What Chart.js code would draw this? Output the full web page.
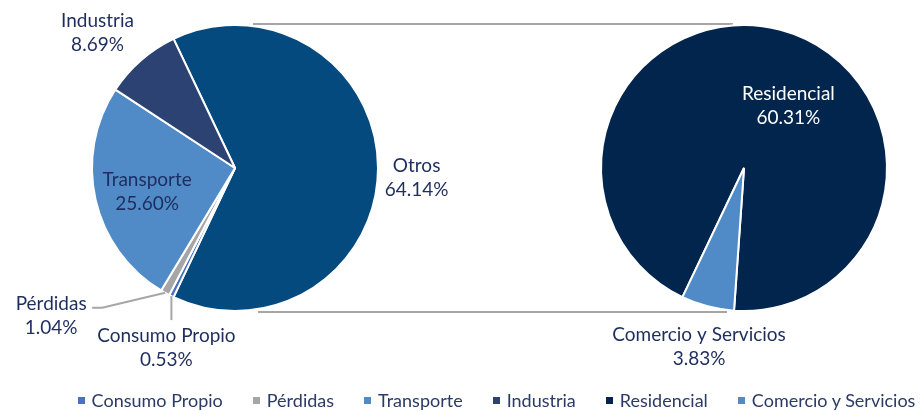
<!DOCTYPE html>
<html><head><meta charset="utf-8">
<script src="https://cdn.jsdelivr.net/npm/chart.js@4"></script>
<style>
html,body{margin:0;padding:0;background:#fff;}
#wrap{position:relative;width:921px;height:411px;overflow:hidden;background:#fff;}
#wrap canvas{position:absolute;left:0;top:0;}
#legend{position:absolute;left:72px;right:0;top:387px;height:26px;display:flex;justify-content:center;align-items:center;font-family:Lato,"Noto Sans",sans-serif;font-size:18px;color:#2b3a66;white-space:nowrap;}
.li{display:flex;align-items:center;margin:0 15px;}
.sw{width:7px;height:7px;margin-right:7px;flex:none;}
</style></head><body>
<div id="wrap">
<canvas id="c1" width="921" height="411"></canvas>
<canvas id="c2" width="921" height="411"></canvas>
<div id="legend"></div>
</div>
<script>
// ---- data ----
const leftLabels  = ['Otros', 'Consumo Propio', 'Pérdidas', 'Transporte', 'Industria'];
const leftValues  = [64.14, 0.53, 1.04, 25.60, 8.69];
const leftColors  = ['#044a7e', '#4a72c0', '#a6a6a6', '#508bc8', '#2b4272'];
const rightLabels = ['Residencial', 'Comercio y Servicios'];
const rightValues = [60.31, 3.83];
const rightColors = ['#02254d', '#508bc8'];

const TEXT = '#1d2d5e';
const FONT = '19px Lato, "Noto Sans", sans-serif';

const sliceLabels = {
  id: 'sliceLabels',
  afterDatasetsDraw(chart, args, opts) {
    const ctx = chart.ctx;
    const meta = chart.getDatasetMeta(0);
    const labels = chart.data.labels;
    const values = chart.data.datasets[0].data;
    ctx.save();
    ctx.font = FONT;
    ctx.textAlign = 'center';
    ctx.textBaseline = 'middle';
    (opts.specs || []).forEach(s => {
      const p = meta.data[s.index].getProps(['x','y','startAngle','endAngle','outerRadius'], true);
      const mid = (p.startAngle + p.endAngle) / 2;
      const ex = p.x + Math.cos(mid) * p.outerRadius;
      const ey = p.y + Math.sin(mid) * p.outerRadius;
      const lx = p.x + Math.cos(mid) * p.outerRadius * s.k + s.dx;
      const ly = p.y + Math.sin(mid) * p.outerRadius * s.k + s.dy;
      if (s.leader) {
        ctx.strokeStyle = '#a6a6a6';
        ctx.lineWidth = 2;
        ctx.beginPath();
        ctx.moveTo(ex, ey);
        s.leader.forEach(pt => ctx.lineTo(pt[0] === null ? ex : lx + pt[0], ly + pt[1]));
        ctx.stroke();
      }
      ctx.fillStyle = s.color || TEXT;
      ctx.fillText(labels[s.index], lx, ly - 12);
      ctx.fillText(values[s.index].toFixed(2) + '%', lx, ly + 12);
    });
    ctx.restore();
  }
};

let chart1;
const seriesLines = {
  id: 'seriesLines',
  beforeDatasetsDraw(chart) {
    const a = chart1.getDatasetMeta(0).data[0].getProps(['x','y','outerRadius'], true);
    const b = chart.getDatasetMeta(0).data[0].getProps(['x','y','outerRadius'], true);
    const ctx = chart.ctx;
    ctx.save();
    ctx.strokeStyle = '#a6a6a6';
    ctx.lineWidth = 2;
    ctx.beginPath();
    ctx.moveTo(a.x + 18, a.y - a.outerRadius - 1);
    ctx.lineTo(b.x - 11, b.y - b.outerRadius - 1);
    ctx.moveTo(a.x + 23, a.y + a.outerRadius + 1);
    ctx.lineTo(b.x - 17, b.y + b.outerRadius + 1);
    ctx.stroke();
    ctx.restore();
  }
};

const leftTotal = leftValues.reduce((s, v) => s + v, 0);

chart1 = new Chart(document.getElementById('c1'), {
  type: 'pie',
  data: { labels: leftLabels, datasets: [{ data: leftValues, backgroundColor: leftColors, borderColor: '#ffffff', borderWidth: 2 }] },
  options: {
    responsive: false, animation: false, devicePixelRatio: 1,
    rotation: 90 - leftValues[0] / leftTotal * 180,
    layout: { padding: { left: 91, right: 542, top: 24, bottom: 99 } },
    plugins: {
      legend: { display: false }, tooltip: { enabled: false },
      sliceLabels: { specs: [
        { index: 0, k: 1.27, dx: 0, dy: 10 },
        { index: 3, k: 0.63, dx: 0, dy: 4 },
        { index: 4, k: 1.25, dx: -20, dy: 0 },
        { index: 2, k: 1, dx: -114, dy: 23, leader: [[51, -8], [41, -8]] },
        { index: 1, k: 1, dx: -5, dy: 52, leader: [[null, -28]] }
      ] }
    }
  },
  plugins: [sliceLabels]
});

const chart2 = new Chart(document.getElementById('c2'), {
  type: 'pie',
  data: { labels: rightLabels, datasets: [{ data: rightValues, backgroundColor: rightColors, borderColor: '#ffffff', borderWidth: 2 }] },
  options: {
    responsive: false, animation: false, devicePixelRatio: 1,
    rotation: 205.5,
    layout: { padding: { left: 600, right: 33, top: 24, bottom: 99 } },
    plugins: {
      legend: { display: false }, tooltip: { enabled: false },
      sliceLabels: { specs: [
        { index: 0, k: 0.45, dx: 28, dy: 0, color: '#ffffff' },
        { index: 1, k: 1.29, dx: 2, dy: 0 }
      ] }
    }
  },
  plugins: [seriesLines, sliceLabels]
});

// HTML legend built from the charts' own legend items
const items = chart1.options.plugins.legend.labels.generateLabels(chart1).filter(it => it.index !== 0)
  .concat(chart2.options.plugins.legend.labels.generateLabels(chart2));
const legend = document.getElementById('legend');
items.forEach(it => {
  const li = document.createElement('div'); li.className = 'li';
  const sw = document.createElement('span'); sw.className = 'sw'; sw.style.background = it.fillStyle;
  const tx = document.createElement('span'); tx.textContent = it.text;
  li.appendChild(sw); li.appendChild(tx); legend.appendChild(li);
});
</script>
</body></html>
